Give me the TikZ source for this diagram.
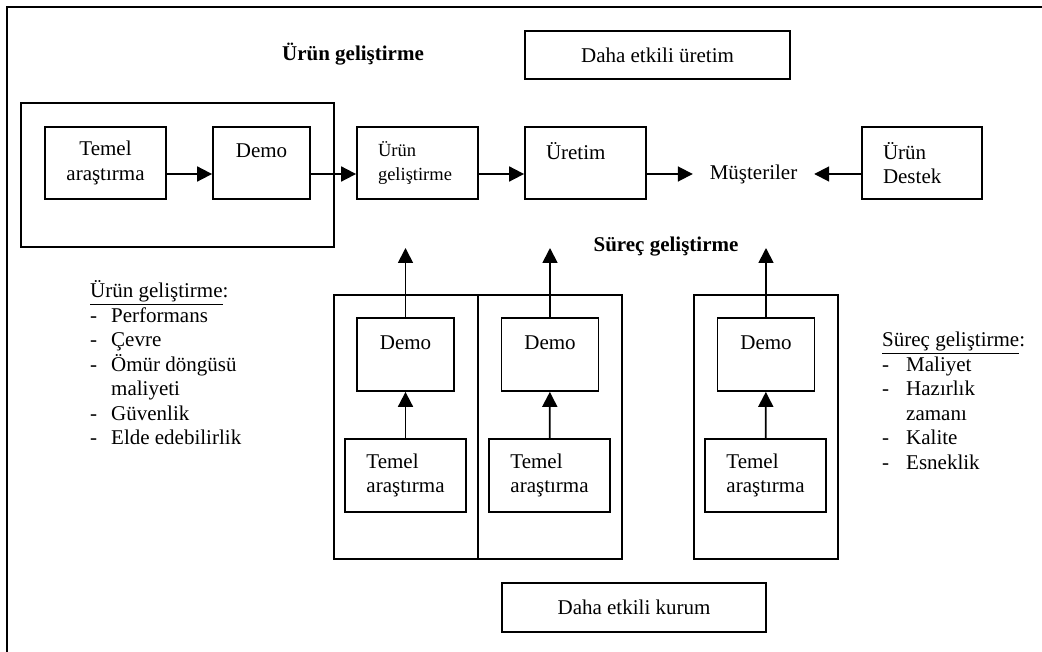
\documentclass[tikz,border=0pt]{standalone}
\usepackage{fontspec}
\setmainfont{Liberation Serif}
\usetikzlibrary{arrows.meta, positioning}
\tikzset{
box/.style={draw, line width=1.8pt, inner sep=0pt, align=center}, % plain framed box
lbox/.style={box, inner xsep=21pt, align=left}, % text pushed to the left edge
arr/.style={-{Triangle[length=15pt,width=15pt]}, line width=1.8pt}, % filled arrow heads
}

\begin{document}
\begin{tikzpicture}[x=1pt, y=-1pt, every node/.style={font=\fontsize{21pt}{24.5pt}\selectfont}]
        \useasboundingbox (0,0) rectangle (1042,652);
        \draw[line width=1.8pt] (7,652) -- (7,7) -- (1042,7);

        % top row
        \node at (353,54) (ttl1) {\textbf{Ürün geliştirme}};
        \node[box, minimum width=265pt, minimum height=48pt] at (657.5,55) (uretim1) {Daha etkili üretim};
        \node[box, minimum width=313pt, minimum height=144pt] at (177.5,175) (big) {};
        \node[box, minimum width=121pt, minimum height=72pt] at (105.5,163) (tr0) {Temel\\araştırma};
        \node[box, minimum width=97pt, minimum height=72pt] at (261.5,163) (dm0) {Demo\\[-8pt]\strut};
        \node[lbox, text width=79pt, minimum height=72pt, font=\fontsize{18.5pt}{24pt}\selectfont] at (417.5,163) (ug) {Ürün\\geliştirme};
        \node[lbox, text width=79pt, minimum height=72pt] at (585.5,163) (ur) {Üretim\\[-8pt]\strut};
        \node[minimum width=121pt, inner sep=0pt] at (753.5,174) (mus) {Müşteriler};
        \node[lbox, text width=78pt, minimum height=72pt] at (922,163) (ds) {Ürün\\Destek};

        \draw[arr] ([yshift=-11pt]tr0.east) -- ([yshift=-11pt]dm0.west);
        \draw[arr] ([yshift=-11pt]dm0.east) -- ([yshift=-11pt]ug.west);
        \draw[arr] ([yshift=-11pt]ug.east) -- ([yshift=-11pt]ur.west);
        \draw[arr] ([yshift=-11pt]ur.east) -- (mus.west);
        \draw[arr] ([yshift=-11pt]ds.west) -- (mus.east);

        % process columns
        \node at (666,247) (ttl2) {\textbf{Süreç geliştirme}};
        \node[box, minimum width=144pt, minimum height=264pt] at (406,427) (g1) {};
        \node[box, minimum width=144pt, minimum height=264pt] at (550,427) (g2) {};
        \node[box, minimum width=144pt, minimum height=264pt] at (766,427) (g3) {};
        \node[box, minimum width=97pt, minimum height=73pt] at (405.5,354.5) (dm1) {Demo\\[-8pt]\strut};
        \node[box, minimum width=97pt, minimum height=73pt] at (550,354.5) (dm2) {Demo\\[-8pt]\strut};
        \node[box, minimum width=97pt, minimum height=73pt] at (766,354.5) (dm3) {Demo\\[-8pt]\strut};
        \node[box, align=left, minimum width=121pt, minimum height=73pt] at (405.5,475.5) (tr1) {Temel\\araştırma};
        \node[box, align=left, minimum width=121pt, minimum height=73pt] at (549.5,475.5) (tr2) {Temel\\araştırma};
        \node[box, align=left, minimum width=121pt, minimum height=73pt] at (765.5,475.5) (tr3) {Temel\\araştırma};
        \coordinate (up1) at (405.5,248);
        \coordinate (up2) at (550,248);
        \coordinate (up3) at (766,248);

        \draw[arr] (tr1) -- (dm1);
        \draw[arr] (tr2) -- (dm2);
        \draw[arr] (tr3) -- (dm3);
        \draw[arr] (dm1.north) -- (up1);
        \draw[arr] (dm2.north) -- (up2);
        \draw[arr] (dm3.north) -- (up3);

        \node[box, minimum width=264pt, minimum height=49pt] at (634,607.5) (kurum) {Daha etkili kurum};

        % criteria lists
        \node[anchor=base west, inner sep=0pt] at (90,298) (lst1) {\begin{tabular}[t]{@{}p{21pt}@{}l@{}}
        \multicolumn{2}{@{}l@{}}{\underline{Ürün geliştirme}:}\\
        - & Performans\\
        - & Çevre\\
        - & Ömür döngüsü\\
          & maliyeti\\
        - & Güvenlik\\
        - & Elde edebilirlik
        \end{tabular}};
        \node[anchor=base west, inner sep=0pt] at (882,347) (lst2) {\begin{tabular}[t]{@{}p{24pt}@{}l@{}}
        \multicolumn{2}{@{}l@{}}{\underline{Süreç geliştirme}:}\\
        - & Maliyet\\
        - & Hazırlık\\
          & zamanı\\
        - & Kalite\\
        - & Esneklik
        \end{tabular}};
\end{tikzpicture}
\end{document}
